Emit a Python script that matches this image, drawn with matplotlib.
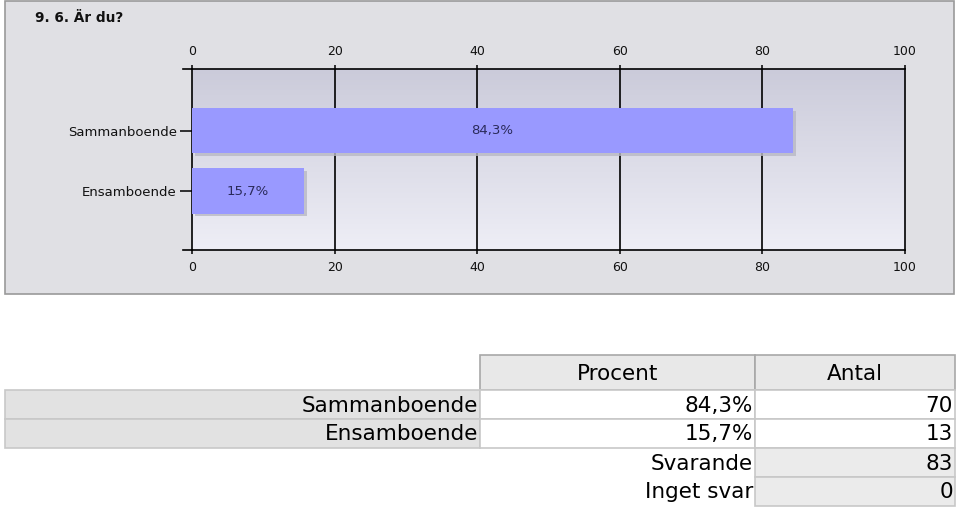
import numpy as np
import matplotlib
matplotlib.use("Agg")
import matplotlib.pyplot as plt
import matplotlib.patheffects as pe
from matplotlib.patches import Rectangle

title = "9. 6. Är du?"
categories = ["Sammanboende", "Ensamboende"]
percent = [84.3, 15.7]
percent_labels = ["84,3%", "15,7%"]
counts = [70, 13]
summary_labels = ["Svarande", "Inget svar"]
summary_values = [83, 0]
header = ["Procent", "Antal"]
xticks = [0, 20, 40, 60, 80, 100]

W, H = 959, 509
fig = plt.figure(figsize=(W / 100, H / 100), dpi=100)
fig.patch.set_facecolor("white")

# background layer in pixel coordinates
bg = fig.add_axes([0, 0, 1, 1])
bg.set_xlim(0, W)
bg.set_ylim(H, 0)
bg.axis("off")
bg.add_patch(Rectangle((5, 1), 949, 293, facecolor="#e0e0e4", edgecolor="#9a9a9a", lw=1.2))
bg.text(35, 18, title, fontsize=9.8, fontweight="bold", va="center", ha="left", color="#111111")


def fr(x0, y0, x1, y1):
    return [x0 / W, 1 - y1 / H, (x1 - x0) / W, (y1 - y0) / H]


ax = fig.add_axes(fr(192, 69, 905, 250))
grad = np.linspace(0, 1, 256).reshape(-1, 1)
cmap = matplotlib.colors.LinearSegmentedColormap.from_list("g", ["#cbcbda", "#eeeef6"])
ax.imshow(grad, aspect="auto", cmap=cmap, extent=[0, 100, 1.975, -1.017], zorder=0)

y = np.arange(len(categories))
bars = ax.barh(y, percent, height=0.75, color="#9999ff", zorder=3)
for b in bars:
    b.set_path_effects([pe.SimplePatchShadow(offset=(2, -2), shadow_rgbFace="#b8b8c4", alpha=0.8), pe.Normal()])
for yi, p, lab in zip(y, percent, percent_labels):
    ax.text(p / 2, yi, lab, ha="center", va="center", fontsize=9.5, color="#2a2a5a", zorder=4)

ax.set_xlim(0, 100)
ax.set_ylim(1.975, -1.017)
ax.set_xticks(xticks)
ax.set_yticks(y)
ax.set_yticklabels(categories)
for xt in xticks[1:-1]:
    ax.axvline(xt, color="black", lw=1.2, zorder=2)
ax.tick_params(axis="x", top=True, labeltop=True, bottom=True, labelbottom=True,
               direction="out", length=3, width=1.2, labelsize=9, pad=5, colors="#111111")
ax.tick_params(axis="y", direction="out", length=9, width=1.2, labelsize=9.5, pad=2, colors="#111111")
for s in ax.spines.values():
    s.set_linewidth(1.2)
# axis lines extend a little left of the y-axis
for yy in ax.get_ylim():
    ax.plot([-1.3, 0], [yy, yy], color="black", lw=1.2, clip_on=False, zorder=5)

# table
col_x = [5, 480, 755, 955]
row_y = [355, 390, 419, 448, 477, 506]
fs = 15.5
for i, h in enumerate(header):
    x0, x1 = col_x[i + 1], col_x[i + 2]
    bg.add_patch(Rectangle((x0, row_y[0]), x1 - x0, row_y[1] - row_y[0],
                           facecolor="#e8e8e8", edgecolor="#a8a8a8", lw=1.2))
    bg.text((x0 + x1) / 2, (row_y[0] + row_y[1]) / 2 + 1, h, ha="center", va="center", fontsize=fs)

for r, (cat, pl, c) in enumerate(zip(categories, percent_labels, counts)):
    y0, y1 = row_y[r + 1], row_y[r + 2]
    bg.add_patch(Rectangle((col_x[0], y0), col_x[1] - col_x[0], y1 - y0,
                           facecolor="#e2e2e2", edgecolor="#c8c8c8", lw=1.2))
    for j in (1, 2):
        bg.add_patch(Rectangle((col_x[j], y0), col_x[j + 1] - col_x[j], y1 - y0,
                               facecolor="white", edgecolor="#c8c8c8", lw=1.2))
    ym = (y0 + y1) / 2 + 1
    bg.text(col_x[1] - 2, ym, cat, ha="right", va="center", fontsize=fs)
    bg.text(col_x[2] - 2, ym, pl, ha="right", va="center", fontsize=fs)
    bg.text(col_x[3] - 2, ym, str(c), ha="right", va="center", fontsize=fs)

for r, (lab, v) in enumerate(zip(summary_labels, summary_values)):
    y0, y1 = row_y[r + 3], row_y[r + 4]
    bg.add_patch(Rectangle((col_x[2], y0), col_x[3] - col_x[2], y1 - y0,
                           facecolor="#ebebeb", edgecolor="#c8c8c8", lw=1.2))
    ym = (y0 + y1) / 2 + 1
    bg.text(col_x[2] - 2, ym, lab, ha="right", va="center", fontsize=fs)
    bg.text(col_x[3] - 2, ym, str(v), ha="right", va="center", fontsize=fs)

fig.savefig("out.png", dpi=100)
